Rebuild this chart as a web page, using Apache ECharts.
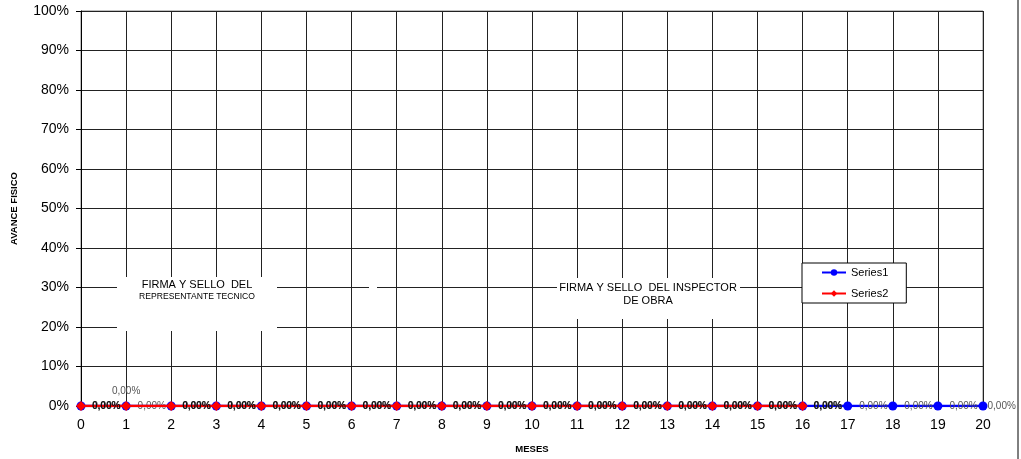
<!DOCTYPE html>
<html>
<head>
<meta charset="utf-8">
<script src="https://cdn.jsdelivr.net/npm/echarts@6/dist/echarts.min.js"></script>
<style>
html,body{margin:0;padding:0;background:#fff;}
#c{width:1021px;height:459px;}
</style>
</head>
<body>
<div id="c"></div>
<script>
var months = ['0','1','2','3','4','5','6','7','8','9','10','11','12','13','14','15','16','17','18','19','20'];
var series1 = [0,0,0,0,0,0,0,0,0,0,0,0,0,0,0,0,0,0,0,0,0];
var series2 = [0,0,0,0,0,0,0,0,0,0,0,0,0,0,0,0,0];
var yTicks = [0,10,20,30,40,50,60,70,80,90,100];

var font = 'Liberation Sans, Arial, sans-serif';
var chart = echarts.init(document.getElementById('c'), null, {renderer:'canvas'});

function fmt(p){ return p.value.toFixed(2).replace('.', ',') + '%'; }

var s1data = series1.map(function(v, i){
  if (i === series1.length - 1) return {value: v, label: {distance: 0}};
  return v;
});
var s2data = series2.map(function(v, i){
  if (i === 1) return {value: v, label: {position: 'top', distance: 5, color: '#555', fontWeight: 'normal'}};
  return v;
});

chart.setOption({
  animation: false,
  backgroundColor: '#fff',
  grid: {left: 81, right: 38, top: 11, bottom: 52, show: true, borderColor: '#808080', borderWidth: 1},
  xAxis: {
    type: 'category', data: months, boundaryGap: false,
    axisLine: {show: true, lineStyle: {color: '#808080'}},
    axisTick: {show: false},
    axisLabel: {fontFamily: font, fontSize: 14, color: '#000', margin: 12},
    splitLine: {show: true, lineStyle: {color: '#222', width: 1}},
    name: 'MESES', nameLocation: 'middle', nameGap: 38,
    nameTextStyle: {fontFamily: font, fontSize: 9.5, fontWeight: 'bold', color: '#000'}
  },
  yAxis: {
    type: 'value', min: 0, max: 100, interval: 10,
    axisLine: {show: true, lineStyle: {color: '#000'}},
    axisTick: {show: true, length: 5, inside: false, lineStyle: {color: '#000'}},
    axisLabel: {fontFamily: font, fontSize: 14, color: '#000', margin: 12, formatter: '{value}%'},
    splitLine: {show: true, lineStyle: {color: '#222', width: 1}},
    name: 'AVANCE FISICO', nameLocation: 'middle', nameGap: 62, nameRotate: 90,
    nameTextStyle: {fontFamily: font, fontSize: 9.5, fontWeight: 'bold', color: '#000'}
  },
  legend: {
    orient: 'vertical', left: 802, top: 263,
    padding: [4, 18, 4, 19], itemGap: 10, itemWidth: 24, itemHeight: 8,
    backgroundColor: '#fff', borderColor: '#000', borderWidth: 1, borderRadius: 0,
    textStyle: {fontFamily: font, fontSize: 11, color: '#000'},
    data: ['Series1', 'Series2']
  },
  series: [
    {
      name: 'Series1', type: 'line', data: s1data,
      symbol: 'circle', symbolSize: 9, z: 3,
      itemStyle: {color: '#0000ff'}, lineStyle: {color: '#0000ff', width: 2.5},
      label: {show: true, position: 'right', distance: 7, fontFamily: font, fontSize: 10, color: '#555', formatter: fmt}
    },
    {
      name: 'Series2', type: 'line', data: s2data,
      symbol: 'diamond', symbolSize: 10, z: 4,
      itemStyle: {color: '#ff0000'}, lineStyle: {color: '#ff0000', width: 2.5},
      label: {show: true, position: 'right', distance: 6, fontFamily: font, fontSize: 10, color: '#111', fontWeight: 'bold', formatter: fmt}
    }
  ],
  graphic: [
    {type: 'line', shape: {x1: 1018, y1: 0, x2: 1018, y2: 459}, style: {stroke: '#000', lineWidth: 1}, z: 10},
    {type: 'rect', shape: {x: 117, y: 277, width: 160, height: 54}, style: {fill: '#fff'}, z: 10},
    {type: 'text', x: 197, y: 285, style: {text: 'FIRMA Y SELLO  DEL', font: '11px ' + font, fill: '#000', textAlign: 'center', textVerticalAlign: 'middle'}, z: 11},
    {type: 'text', x: 197, y: 297, style: {text: 'REPRESENTANTE TECNICO', font: '8.6px ' + font, fill: '#000', textAlign: 'center', textVerticalAlign: 'middle'}, z: 11},
    {type: 'rect', shape: {x: 369, y: 284, width: 8, height: 8}, style: {fill: '#fff'}, z: 10},
    {type: 'rect', shape: {x: 557, y: 278, width: 183, height: 41}, style: {fill: '#fff'}, z: 10},
    {type: 'text', x: 648, y: 288, style: {text: 'FIRMA Y SELLO  DEL INSPECTOR', font: '11px ' + font, fill: '#000', textAlign: 'center', textVerticalAlign: 'middle'}, z: 11},
    {type: 'text', x: 648, y: 301, style: {text: 'DE OBRA', font: '11px ' + font, fill: '#000', textAlign: 'center', textVerticalAlign: 'middle'}, z: 11}
  ]
});
</script>
</body>
</html>
